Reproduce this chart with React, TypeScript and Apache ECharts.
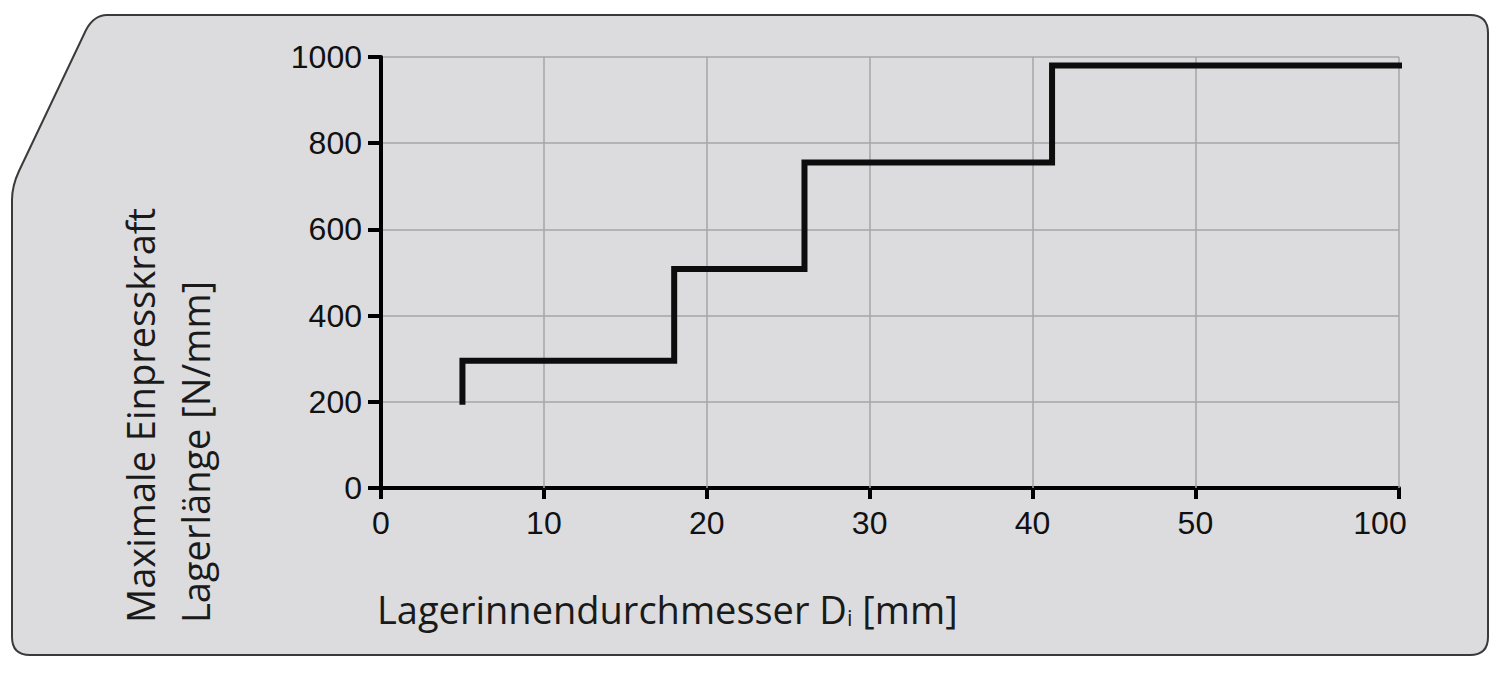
import React, { useEffect, useRef } from "react";
import * as echarts from "echarts";

// ---- data ----
const xTickLabels = [0, 10, 20, 30, 40, 50, 100];
const xTickPositions = [0, 10, 20, 30, 40, 50, 62.5];
const yTicks = [0, 200, 400, 600, 800, 1000];
const stepDiameters = [5, 18, 26, 41.2, 100]; // mm, step boundaries
const stepForces = [295, 508, 755, 980]; // N/mm, level after each boundary
const startForce = 200;

const xTitle = "Lagerinnendurchmesser D{sub|i} [mm]";
const yTitleLines = ["Maximale Einpresskraft", "Lagerlänge [N/mm]"];

// piecewise-linear scale: real diameter -> axis position
function toAxis(v: number): number {
  for (let i = 1; i < xTickLabels.length; i++) {
    if (v <= xTickLabels[i]) {
      const a = xTickLabels[i - 1], b = xTickLabels[i];
      const pa = xTickPositions[i - 1], pb = xTickPositions[i];
      return pa + ((v - a) / (b - a)) * (pb - pa);
    }
  }
  return xTickPositions[xTickPositions.length - 1];
}

function buildSteps(): number[][] {
  const pts: number[][] = [[toAxis(stepDiameters[0]), startForce]];
  for (let i = 0; i < stepForces.length; i++) {
    pts.push([toAxis(stepDiameters[i]), stepForces[i]]);
    pts.push([toAxis(stepDiameters[i + 1]), stepForces[i]]);
  }
  return pts;
}

const PANEL_D =
  "M107,15 L1470,15 Q1488,15 1488,33 L1488,637 Q1488,655 1470,655 L30,655 Q12,655 12,637 L12,200 Q12,186 19,171 L86,30 Q94,15 107,15 Z";

let registered = false;

export default function App() {
  const ref = useRef<HTMLDivElement>(null);
  useEffect(() => {
    if (!ref.current) return;
    if (!registered) {
      echarts.graphic.registerShape("panel", echarts.graphic.extendPath(PANEL_D, {}) as any);
      registered = true;
    }
    const chart = echarts.init(ref.current, undefined, { renderer: "svg" });
    const labelFont = "'Liberation Sans', Arial, sans-serif";
    const titleFont = "'Open Sans', 'Noto Sans', sans-serif";
    const option: any = {
      animation: false,
      backgroundColor: "#ffffff",
      grid: { left: 381, right: 101, top: 57, bottom: 186, containLabel: false },
      xAxis: {
        type: "value",
        min: 0,
        max: xTickPositions[xTickPositions.length - 1],
        axisLine: { show: true, lineStyle: { color: "#000", width: 4 } },
        axisTick: {
          show: true,
          customValues: xTickPositions,
          length: 11,
          lineStyle: { color: "#000", width: 4 },
        },
        axisLabel: {
          show: true,
          customValues: xTickPositions,
          fontFamily: labelFont,
          fontSize: 32,
          color: "#111",
          margin: 19,
          formatter: (v: number) => {
            const idx = xTickPositions.findIndex((p) => Math.abs(p - v) < 1e-6);
            if (idx < 0) return "";
            const lbl = String(xTickLabels[idx]);
            return idx === xTickPositions.length - 1 ? "{r|" + lbl + "}" : lbl;
          },
          rich: {
            r: { fontFamily: labelFont, fontSize: 32, color: "#111", padding: [0, 38, 0, 0] },
          },
        },
        splitLine: { show: false },
      },
      yAxis: {
        type: "value",
        min: 0,
        max: 1000,
        interval: 200,
        axisLine: { show: true, lineStyle: { color: "#000", width: 4 } },
        axisTick: { show: true, length: 13, lineStyle: { color: "#000", width: 4 } },
        axisLabel: {
          fontFamily: labelFont,
          fontSize: 32,
          color: "#111",
          margin: 19,
          formatter: (v: number) => (yTicks.includes(v) ? String(v) : ""),
        },
        splitLine: { show: true, lineStyle: { color: "#a6a6a6", width: 1.5 } },
      },
      series: [
        {
          type: "line",
          data: [],
          z: 1,
          silent: true,
          markLine: {
            silent: true,
            symbol: ["none", "none"],
            label: { show: false },
            lineStyle: { color: "#a6a6a6", width: 1.5, type: "solid" },
            data: xTickPositions.slice(1).map((p) => ({ xAxis: p })),
          },
        },
        {
          type: "line",
          data: buildSteps(),
          z: 5,
          symbol: "none",
          lineStyle: { color: "#0d0d0d", width: 6, cap: "square", join: "miter" },
        },
      ],
      graphic: [
        {
          type: "panel",
          x: 0,
          y: 0,
          z: -10,
          silent: true,
          style: { fill: "#dcdcde", stroke: "#3a3a3a", lineWidth: 2 },
        },
        {
          type: "text",
          x: 377,
          y: 609,
          z: 10,
          style: {
            text: xTitle,
            fontFamily: titleFont,
            fontSize: 38,
            fill: "#1a1a1a",
            align: "left",
            verticalAlign: "middle",
            rich: {
              sub: { fontFamily: titleFont, fontSize: 22, fill: "#1a1a1a", verticalAlign: "bottom" },
            },
          },
        },
        ...yTitleLines.map((t, i) => ({
          type: "text",
          x: 140 + i * 55,
          y: 623,
          rotation: Math.PI / 2,
          z: 10,
          style: {
            text: t,
            fontFamily: titleFont,
            fontSize: 38,
            fill: "#1a1a1a",
            align: "left",
            verticalAlign: "middle",
          },
        })),
      ],
    };
    chart.setOption(option);
    return () => chart.dispose();
  }, []);
  return (
    <div
      ref={ref}
      style={{ position: "fixed", left: 0, top: 0, width: 1500, height: 674 }}
    />
  );
}
